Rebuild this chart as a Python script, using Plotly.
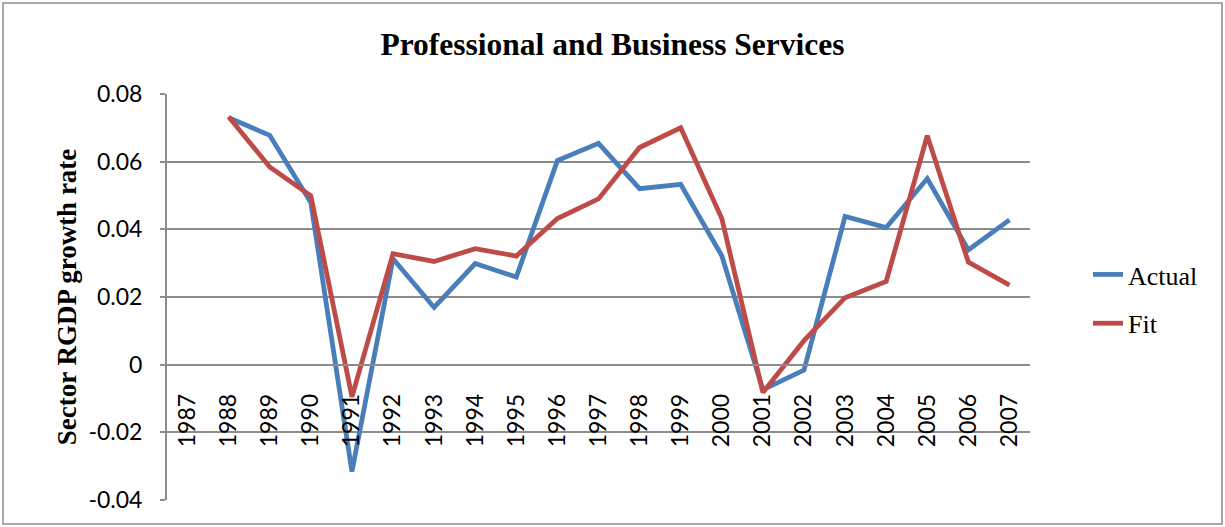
import plotly.graph_objects as go

# Category years and the two growth-rate series (1987 has no observation)
years = [str(y) for y in range(1987, 2008)]
actual = [None, 0.0730, 0.0678, 0.0479, -0.0316, 0.0313, 0.0169, 0.0299, 0.0259,
          0.0603, 0.0654, 0.0520, 0.0533, 0.0322, -0.0074, -0.0016, 0.0438,
          0.0405, 0.0550, 0.0339, 0.0428]
fit = [None, 0.0733, 0.0584, 0.0499, -0.0095, 0.0328, 0.0305, 0.0343, 0.0321,
       0.0432, 0.0490, 0.0642, 0.0700, 0.0432, -0.0082, 0.0071, 0.0198,
       0.0246, 0.0677, 0.0303, 0.0235]
y_ticks = [-0.04, -0.02, 0, 0.02, 0.04, 0.06, 0.08]
y_tick_text = ["-0.04", "-0.02", "0", "0.02", "0.04", "0.06", "0.08"]

BLUE = "#4A7EBB"
RED = "#BE4B48"
GRID = "#8C8C8C"
TICK_FONT = dict(family="Lato, 'Open Sans', sans-serif", size=23, color="#000000")
SERIF = "'Liberation Serif', 'Times New Roman', serif"

fig = go.Figure()
fig.add_trace(go.Scatter(x=years, y=actual, name="Actual", mode="lines",
                         line=dict(color=BLUE, width=4.8), legendgroup="a"))
fig.add_trace(go.Scatter(x=years, y=fit, name="Fit", mode="lines",
                         line=dict(color=RED, width=4.8), legendgroup="f"))

y_min, y_max = -0.04, 0.08
zero_pos = (0 - y_min) / (y_max - y_min)

fig.update_layout(
    width=1225, height=527,
    margin=dict(l=167, r=195, t=94, b=27),
    paper_bgcolor="white", plot_bgcolor="white",
    title=dict(text="<b>Professional and Business Services</b>",
               font=dict(family=SERIF, size=31.5, color="#000000"),
               x=0.5, xref="container", xanchor="center",
               y=1 - 44 / 527, yref="container", yanchor="middle"),
    showlegend=True,
    legend=dict(x=(1088 - 167) / 863, y=0.495, xanchor="left", yanchor="middle",
                font=dict(family=SERIF, size=26, color="#000000"),
                traceorder="grouped", tracegroupgap=12,
                bgcolor="rgba(0,0,0,0)"),
    xaxis=dict(type="category", categoryorder="array", categoryarray=years,
               range=[-0.5, len(years) - 0.5],
               anchor="free", position=zero_pos,
               showline=True, linecolor=GRID, linewidth=2,
               showgrid=False, zeroline=False,
               ticks="", tickangle=-90, tickfont=TICK_FONT,
               ticklabelstandoff=19),
    yaxis=dict(range=[y_min, y_max], tickvals=y_ticks, ticktext=y_tick_text,
               showline=True, linecolor=GRID, linewidth=2,
               showgrid=True, gridcolor=GRID, gridwidth=2,
               zeroline=False,
               ticks="outside", ticklen=5, tickcolor=GRID, tickwidth=2,
               tickfont=TICK_FONT, ticklabelstandoff=13,
               title=dict(text="<b>Sector RGDP growth rate</b>",
                          font=dict(family=SERIF, size=27, color="#000000"),
                          standoff=4)),
    shapes=[dict(type="rect", xref="paper", yref="paper",
                 x0=(3 - 167) / 863, x1=(1222 - 167) / 863,
                 y0=(500 - 524) / 406, y1=(500 - 3) / 406,
                 line=dict(color="#8C8C8C", width=1.5), layer="below")],
)

fig.write_html("out.html")
